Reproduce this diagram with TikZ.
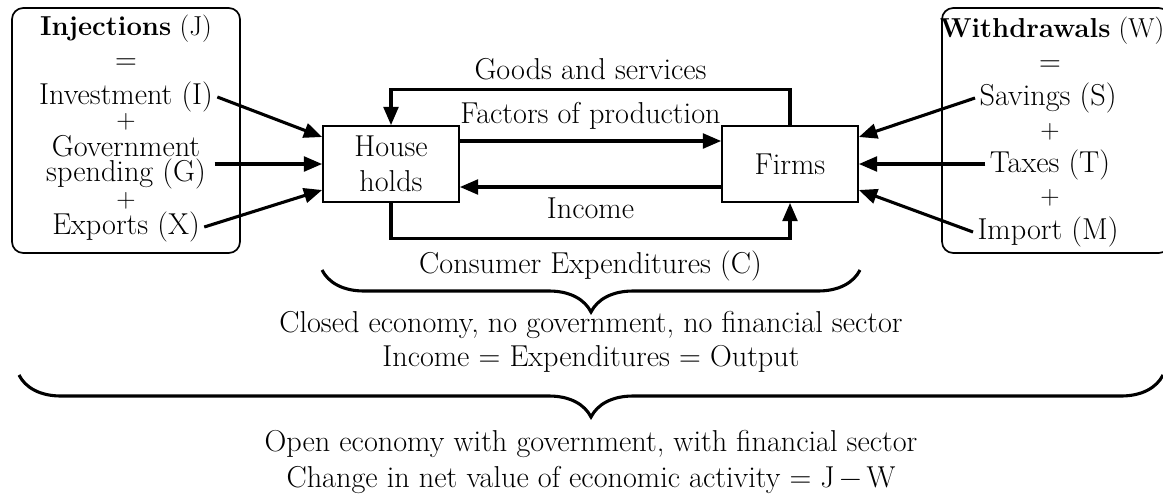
\documentclass[tikz,border=0pt]{standalone}
\usepackage{fontspec}
\usetikzlibrary{arrows.meta,positioning,decorations.pathreplacing}

\begin{document}
\begin{tikzpicture}[
        font=\fontsize{21.5}{24.5}\selectfont,
        sector/.style={rectangle, draw, line width=1.2pt, minimum height=1.9cm, minimum width=3.4cm, align=center},
        group/.style={rectangle, draw, line width=1.2pt, rounded corners=8pt, minimum width=5.7cm, minimum height=6.125cm},
        term/.style={inner sep=0pt, align=center},
        plus/.style={inner sep=0pt, font=\fontsize{19}{20}\selectfont},
        head/.style={inner sep=0pt, font=\fontsize{19.5}{22}\selectfont},
        flow/.style={-{Triangle[length=13pt,width=10.5pt]}, line width=2.2pt},
        bracket/.style={decorate, decoration={brace, mirror, amplitude=1.05cm}, line width=2.2pt}
    ]
        \useasboundingbox (0,0) rectangle (29.075,-12.375);
        \clip (0,0) rectangle (29.075,-12.375);

        \node[group] (jbox) at (3.15,-3.2625) {};
        \node[group] (wbox) at (26.4,-3.2625) {};

        \node[sector] (hh) at (9.775,-4.1) {House\\holds};
        \node[sector] (firms) at (19.75,-4.1) {Firms};

        % injections
        \node[head] (inj) at (3.15,-0.72) {\textbf{Injections} (J)};
        \node[term] (jeq) at (3.15,-1.6) {=};
        \node[term] (inv) at (3.15,-2.425) {Investment (I)};
        \node[plus] (jp1) at (3.15,-3.04) {+};
        \node[term, font=\fontsize{21.5}{18}\selectfont] (gov) at (3.15,-4.05) {Government\\spending (G)};
        \node[plus] (jp2) at (3.15,-5.025) {+};
        \node[term] (exp) at (3.15,-5.675) {Exports (X)};

        % withdrawals
        \node[head] (wd) at (26.3,-0.77) {\textbf{Withdrawals} (W)};
        \node[term] (weq) at (26.25,-1.65) {=};
        \node[term] (sav) at (26.2,-2.45) {Savings (S)};
        \node[plus] (wp1) at (26.25,-3.3) {+};
        \node[term] (tax) at (26.25,-4.125) {Taxes (T)};
        \node[plus] (wp2) at (26.25,-4.95) {+};
        \node[term] (imp) at (26.2,-5.8) {Import (M)};

        \draw[flow] ([xshift=3pt]inv.east) -- ([yshift=0.675cm]hh.west);
        \draw[flow] ([xshift=6pt]gov.east |- hh.west) -- (hh.west);
        \draw[flow] ([xshift=3pt]exp.east) -- ([yshift=-0.65cm]hh.west);

        \draw[flow] ([xshift=-3pt]sav.west) -- ([yshift=0.675cm]firms.east);
        \draw[flow] ([xshift=-3pt]tax.west |- firms.east) -- (firms.east);
        \draw[flow] ([xshift=-3pt]imp.west) -- ([yshift=-0.65cm]firms.east);

        % circular flow
        \draw[flow] (firms.north) -- ++(0,0.9) -| node[pos=0.25, above=2pt] {Goods and services} (hh.north);
        \draw[flow] ([yshift=0.575cm]hh.east) -- node[above=4pt] {Factors of production} ([yshift=0.575cm]firms.west);
        \draw[flow] ([yshift=-0.575cm]firms.west) -- node[below=3pt] {Income} ([yshift=-0.575cm]hh.east);
        \draw[flow] (hh.south) -- ++(0,-0.9) -| node[pos=0.25, below=4pt] {Consumer Expenditures (C)} (firms.south);

        % braces
        \coordinate (cl) at (8.05,-6.75);
        \coordinate (cr) at (21.5,-6.75);
        \draw[bracket] (cl) -- (cr);
        \coordinate (ol) at (0.475,-9.375);
        \coordinate (or) at (29.075,-9.375);
        \draw[bracket] (ol) -- (or);

        \node[align=center] (closed) at (14.775,-8.55) {Closed economy, no government, no financial sector\\Income = Expenditures = Output};
        \node[align=center, font=\fontsize{21.5}{25.5}\selectfont] (open) at (14.775,-11.55) {Open economy with government, with financial sector\\Change in net value of economic activity = J\,−\,W};
    \end{tikzpicture}
\end{document}
